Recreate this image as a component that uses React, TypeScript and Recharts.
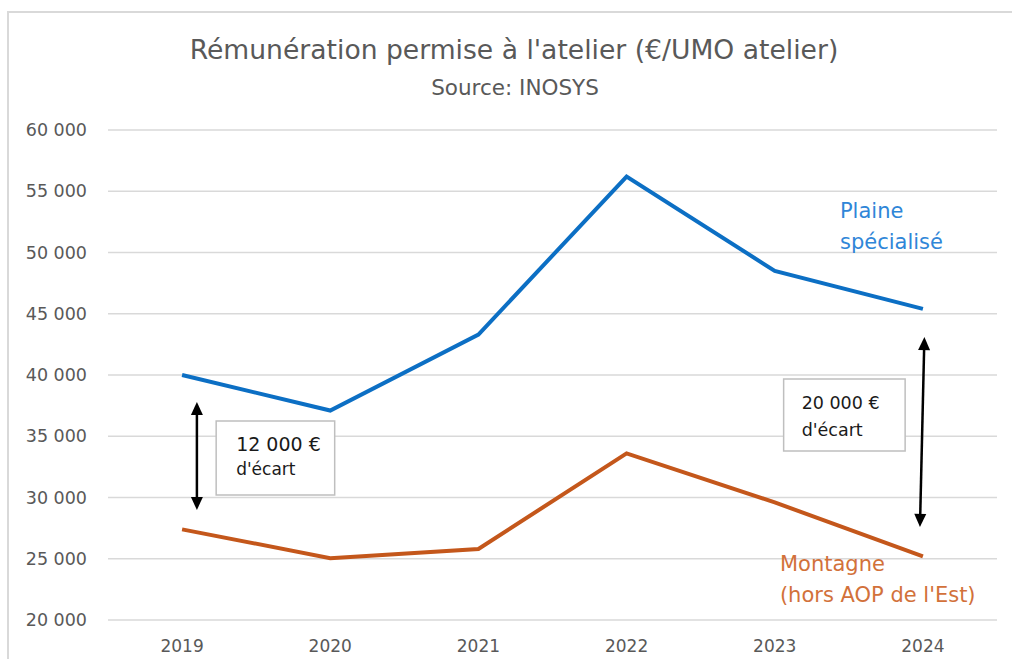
import React from 'react';
import { LineChart, Line, XAxis, YAxis, CartesianGrid, ReferenceLine, ReferenceArea, ReferenceDot } from 'recharts';

const years = [2019, 2020, 2021, 2022, 2023, 2024];
const plaine = [40000, 37100, 43300, 56200, 48500, 45400];
const montagne = [27400, 25050, 25800, 33600, 29600, 25200];
const yTicks = [20000, 25000, 30000, 35000, 40000, 45000, 50000, 55000, 60000];

const title = "Rémunération permise à l'atelier (€/UMO atelier)";
const subtitle = 'Source: INOSYS';
const plaineLabel = ['Plaine', 'spécialisé'];
const montagneLabel = ['Montagne', "(hors AOP de l'Est)"];
const gap1Label = ['12 000 €', "d'écart"];
const gap2Label = ['20 000 €', "d'écart"];

const data = years.map((y, i) => ({ year: y, plaine: plaine[i], montagne: montagne[i] }));

const FONT = "'DejaVu Sans', sans-serif";
const BLUE = '#0c6fc4';
const ORANGE = '#c4571b';

const fmt = (v: number) => String(v).replace(/\B(?=(\d{3})+(?!\d))/g, ' ');

const ArrowShape = (props: any) => {
  const { x1, y1, x2, y2 } = props;
  const dx = x2 - x1;
  const dy = y2 - y1;
  const len = Math.sqrt(dx * dx + dy * dy) || 1;
  const ux = dx / len;
  const uy = dy / len;
  const px = -uy;
  const py = ux;
  const hl = 13;
  const hw = 6;
  const head = (tx: number, ty: number, dir: number) => {
    const bx = tx - dir * ux * hl;
    const by = ty - dir * uy * hl;
    return `${tx},${ty} ${bx + px * hw},${by + py * hw} ${bx - px * hw},${by - py * hw}`;
  };
  return (
    <g>
      <line x1={x1 + ux * 8} y1={y1 + uy * 8} x2={x2 - ux * 8} y2={y2 - uy * 8} stroke="#000" strokeWidth={2.5} />
      <polygon points={head(x1, y1, -1)} fill="#000" />
      <polygon points={head(x2, y2, 1)} fill="#000" />
    </g>
  );
};

const boxText = (lines: string[], dx: number, dy1: number, dy2: number, fs1: number, fs2: number) => (props: any) => {
  const vb = props.viewBox || {};
  return (
    <g>
      <text x={vb.x + dx} y={vb.y + dy1} dominantBaseline="central" fontFamily={FONT} fontSize={fs1} fill="#1a1a1a">{lines[0]}</text>
      <text x={vb.x + dx} y={vb.y + dy2} dominantBaseline="central" fontFamily={FONT} fontSize={fs2} fill="#1a1a1a">{lines[1]}</text>
    </g>
  );
};

const seriesText = (lines: string[], color: string) => (props: any) => {
  const vb = props.viewBox || {};
  return (
    <g>
      <text x={vb.x} y={vb.y} dominantBaseline="central" fontFamily={FONT} fontSize={21} fill={color}>{lines[0]}</text>
      <text x={vb.x} y={vb.y + 31} dominantBaseline="central" fontFamily={FONT} fontSize={21} fill={color}>{lines[1]}</text>
    </g>
  );
};

export default function App() {
  return (
    <div style={{ position: 'absolute', left: 0, top: 0, width: 1012, height: 659, background: '#fff', overflow: 'hidden' }}>
      <div style={{ position: 'absolute', left: 7, top: 11, width: 1100, height: 700, borderTop: '2px solid #d9d9d9', borderLeft: '2px solid #d9d9d9' }} />
      <div style={{ position: 'absolute', left: 0, width: 1028, top: 33, textAlign: 'center', fontFamily: FONT, fontSize: 26.6, color: '#595959', lineHeight: '34px' }}>{title}</div>
      <div style={{ position: 'absolute', left: 0, width: 1030, top: 74, textAlign: 'center', fontFamily: FONT, fontSize: 21.5, color: '#595959', lineHeight: '28px' }}>{subtitle}</div>
      <div style={{ position: 'absolute', left: 0, top: 0 }}>
        <LineChart width={1012} height={659} data={data} margin={{ top: 130, right: 15, bottom: 0, left: 0 }}>
          <CartesianGrid vertical={false} stroke="#d9d9d9" strokeWidth={1.5} />
          <XAxis
            dataKey="year"
            type="number"
            domain={[2018.5, 2024.5]}
            ticks={years}
            axisLine={false}
            tickLine={false}
            tickSize={0}
            tickMargin={20}
            height={39}
            tick={{ fontFamily: FONT, fontSize: 17, fill: '#595959' }}
          />
          <YAxis
            type="number"
            domain={[20000, 60000]}
            ticks={yTicks}
            axisLine={false}
            tickLine={false}
            tickSize={0}
            tickMargin={21}
            width={108}
            tickFormatter={fmt}
            tick={{ fontFamily: FONT, fontSize: 17.5, fill: '#595959' }}
          />
          <ReferenceArea x1={2019.23} x2={2020.03} y1={30200} y2={36250} fill="#fff" fillOpacity={1} stroke="#bfbfbf" strokeWidth={1.5} label={boxText(gap1Label, 20, 23, 48, 19, 17)} />
          <ReferenceArea x1={2023.06} x2={2023.88} y1={33800} y2={39670} fill="#fff" fillOpacity={1} stroke="#bfbfbf" strokeWidth={1.5} label={boxText(gap2Label, 18, 24, 51, 17.5, 17.5)} />
          <ReferenceLine segment={[{ x: 2019.1, y: 37800 }, { x: 2019.1, y: 28980 }]} shape={ArrowShape} />
          <ReferenceLine segment={[{ x: 2024.01, y: 43100 }, { x: 2023.98, y: 27600 }]} shape={ArrowShape} />
          <ReferenceDot x={2023.44} y={53390} r={0} fill="none" stroke="none" label={seriesText(plaineLabel, '#2f86d8')} />
          <ReferenceDot x={2023.035} y={24573} r={0} fill="none" stroke="none" label={seriesText(montagneLabel, '#d2713a')} />
          <Line type="linear" dataKey="plaine" stroke={BLUE} strokeWidth={4} dot={false} isAnimationActive={false} />
          <Line type="linear" dataKey="montagne" stroke={ORANGE} strokeWidth={4} dot={false} isAnimationActive={false} />
        </LineChart>
      </div>
    </div>
  );
}
